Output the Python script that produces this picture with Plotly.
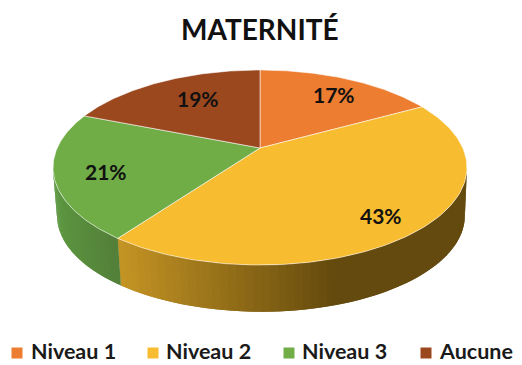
import numpy as np
import plotly.graph_objects as go

# ---- data ----
categories = ["Niveau 1", "Niveau 2", "Niveau 3", "Aucune"]
values = [17, 43, 21, 19]
title_text = "MATERNITÉ"

# ---- style ----
colors = ["#ED7D31", "#F8BC30", "#70AD47", "#9C481F"]
label_radii = [0.75, 0.80, 0.75, 0.68]
label_shift_x = [5, -1, -2, 8]
label_shift_y = [0, -4, -3, 2]
legend_marker_x = [17, 153, 289, 426]
legend_text_x = [31, 166, 302, 439]
legend_y = 351

# ---- perspective pie geometry (pixel-like axes) ----
AX, AY = 260, 148       # projected pie centre
P, A, B = 0.2, 93.6, 202.8
DEPTH, BOTTOM_SCALE = 48.5, 0.985


def project(theta, r=1.0):
    u, v = r * np.sin(theta), r * np.cos(theta)
    w = 1 + P * v
    return B * u / w, A * v / w


def top(theta, r=1.0):
    x, y = project(theta, r)
    return AX + x, AY - y


def bottom(theta):
    x, y = project(theta)
    return AX + 1 + x * BOTTOM_SCALE, AY + DEPTH - y * BOTTOM_SCALE


def lerp(c1, c2, t):
    return "rgb(%d,%d,%d)" % tuple(a + (b - a) * t for a, b in zip(c1, c2))


fractions = np.cumsum([0] + values) / sum(values)
angles = 2 * np.pi * fractions
fig = go.Figure()

# side wall of the slices that face the viewer
TANGENT = np.arccos(-P)
side_styles = {
    1: ((196, 148, 36), (100, 74, 14), 120, 335),
    2: ((92, 150, 64), (84, 128, 58), 57, 115),
}
for idx, (c1, c2, x0, x1) in side_styles.items():
    start = max(angles[idx], TANGENT)
    end = min(angles[idx + 1], 2 * np.pi - TANGENT)
    edges = np.linspace(start, end, 61)
    step = edges[1] - edges[0]
    # each strip overlaps its neighbour so no seams show
    for a, b in zip(edges[:-1], edges[1:]):
        th = np.linspace(a, min(b + step, end), 5)
        xt, yt = top(th)
        xb, yb = bottom(th[::-1])
        t = float(np.clip((top((a + b) / 2)[0] - x0) / (x1 - x0), 0, 1))
        col = lerp(c1, c2, t)
        fig.add_trace(go.Scatter(
            x=np.r_[xt, xb, xt[0]], y=np.r_[yt, yb, yt[0]],
            mode="lines", fill="toself", fillcolor=col,
            line=dict(width=0),
            hoverinfo="skip", showlegend=False))

# top faces
for i, name in enumerate(categories):
    th = np.linspace(angles[i], angles[i + 1], 120)
    xr, yr = top(th)
    fig.add_trace(go.Scatter(
        x=np.r_[AX, xr, AX], y=np.r_[AY, yr, AY],
        mode="lines", fill="toself", fillcolor=colors[i],
        line=dict(color="rgba(255,255,255,0.55)", width=1),
        name=name, text=f"{values[i]}%", hoverinfo="text+name", showlegend=False))

# legend squares
fig.add_trace(go.Scatter(
    x=legend_marker_x, y=[legend_y + 2] * 4, mode="markers",
    marker=dict(symbol="square", size=11, color=colors, line=dict(width=0)),
    hoverinfo="skip", showlegend=False))

annotations = []
font_family = "Lato, 'Open Sans', sans-serif"
for i, v in enumerate(values):
    mid = (angles[i] + angles[i + 1]) / 2
    lx, ly = top(mid, label_radii[i])
    annotations.append(dict(x=lx, y=ly, text=f"<b>{v}%</b>", showarrow=False,
                            xshift=label_shift_x[i], yshift=label_shift_y[i],
                            font=dict(family=font_family, size=21, color="#111111")))
for i, name in enumerate(categories):
    annotations.append(dict(x=legend_text_x[i], y=legend_y, text=f"<b>{name}</b>", showarrow=False,
                            xanchor="left", borderpad=0, borderwidth=0,
                            font=dict(family=font_family, size=21.5, color="#1a1a1a")))
annotations.append(dict(x=260, y=29, text=f"<b>{title_text}</b>", showarrow=False,
                        font=dict(family=font_family, size=28, color="#111111")))

fig.update_layout(
    width=522, height=365, margin=dict(l=0, r=0, t=0, b=0),
    paper_bgcolor="white", plot_bgcolor="white", showlegend=False,
    xaxis=dict(range=[0, 522], visible=False, fixedrange=True),
    yaxis=dict(range=[365, 0], visible=False, fixedrange=True),
    annotations=annotations,
)
fig.write_html("out.html", config=dict(displayModeBar=False),
               post_script="document.body.style.margin='0';document.documentElement.style.overflow='hidden';")
